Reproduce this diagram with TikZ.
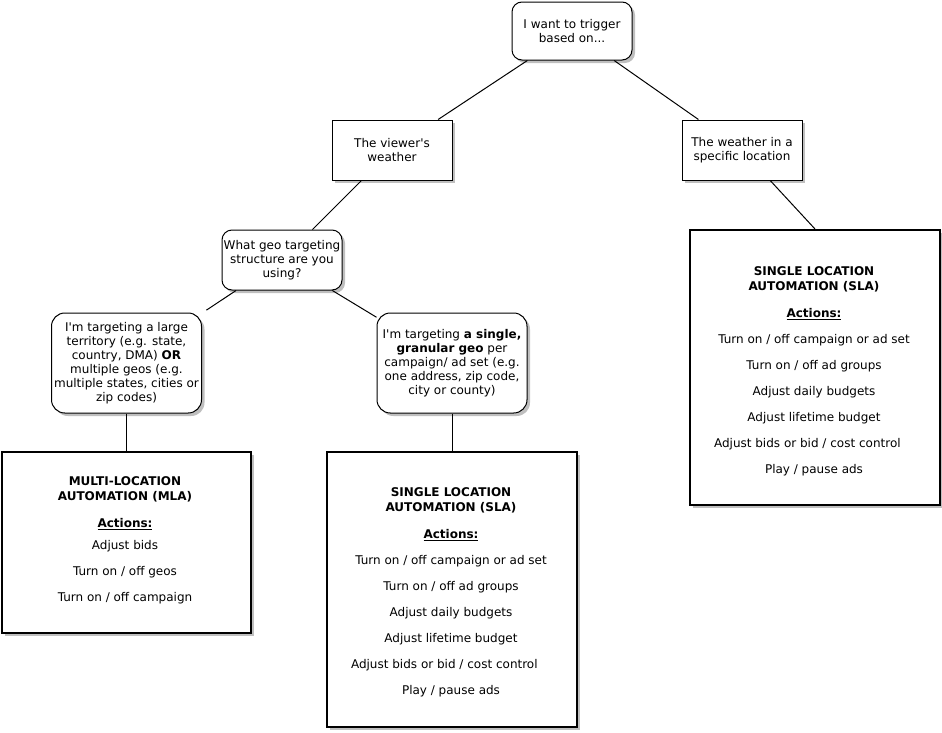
\documentclass[tikz,border=0pt]{standalone}
\usepackage{fontspec}
\setmainfont{DejaVu Sans}
\usetikzlibrary{shadows}
\begin{document}
\begin{tikzpicture}[x=0.75pt,y=-0.75pt,
  base/.style={draw=black, line width=0.75pt, fill=white, align=center, inner sep=0pt,
    font=\fontsize{9pt}{10.5pt}\selectfont,
    drop shadow={shadow xshift=2.25pt, shadow yshift=-2.25pt, opacity=0.25, fill=black}},
  rbox/.style={base, rounded corners=7.5pt},
  sbox/.style={base},
  bigbox/.style={base, line width=1.5pt},
  txt/.style={align=center, inner sep=0pt, anchor=north, font=\fontsize{9pt}{11.25pt}\selectfont},
  link/.style={draw=black, line width=0.75pt}
]
\useasboundingbox (0,0) rectangle (942,732);

\node[rbox, minimum width=90pt, minimum height=43.5pt] (top) at (572,31) {I want to trigger\\based on...};
\node[sbox, minimum width=90pt, minimum height=45pt] (viewer) at (392,150) {The viewer\textquotesingle s\\weather};
\node[sbox, minimum width=90pt, minimum height=45pt] (loc) at (742,150) {The weather in a\\specific location};
\node[rbox, minimum width=90pt, minimum height=45pt] (geo) at (282,260) {What geo targeting\\structure are you\\using?};
\node[rbox, rounded corners=10pt, minimum width=112.5pt, minimum height=75pt] (large) at (126.5,363)
  {I\textquotesingle m targeting a large\\territory (e.g. state,\\country, DMA) \textbf{OR}\\multiple geos (e.g.\\multiple states, cities or\\zip codes)};
\node[rbox, rounded corners=10pt, minimum width=112.5pt, minimum height=75pt] (single) at (452,363)
  {I\textquotesingle m targeting \textbf{a single,}\\\textbf{granular geo} per\\campaign/ ad set (e.g.\\one address, zip code,\\city or county)};

\node[bigbox, minimum width=186.75pt, minimum height=135.75pt] (mla) at (126.5,542.5) {};
\node[bigbox, minimum width=187.5pt, minimum height=206.25pt] (slaM) at (452,589.5) {};
\node[bigbox, minimum width=187.5pt, minimum height=206.25pt] (slaR) at (815,367.5) {};

\node[txt] (mlaT) at (125,476) {\textbf{MULTI-LOCATION}\\\textbf{AUTOMATION (MLA)}\\[9pt]\underline{\textbf{Actions:}}\\[5.25pt]Adjust bids\\[8.25pt]Turn on / off geos\\[8.25pt]Turn on / off campaign};

\node[txt] (slaMT) at (451,487.5) {\textbf{SINGLE LOCATION}\\\textbf{AUTOMATION (SLA)}\\[9pt]\underline{\textbf{Actions:}}\\[8.25pt]Turn on / off campaign or ad set\\[8.25pt]Turn on / off ad groups\\[8.25pt]Adjust daily budgets\\[8.25pt]Adjust lifetime budget\\[8.25pt]Adjust bids or bid / cost control\rule{10pt}{0pt}\\[8.25pt]Play / pause ads};

\node[txt] (slaRT) at (814,266.5) {\textbf{SINGLE LOCATION}\\\textbf{AUTOMATION (SLA)}\\[9pt]\underline{\textbf{Actions:}}\\[8.25pt]Turn on / off campaign or ad set\\[8.25pt]Turn on / off ad groups\\[8.25pt]Adjust daily budgets\\[8.25pt]Adjust lifetime budget\\[8.25pt]Adjust bids or bid / cost control\rule{10pt}{0pt}\\[8.25pt]Play / pause ads};

\draw[link] (top) -- (viewer);
\draw[link] (top) -- (loc);
\draw[link] (loc) -- (slaR.north);
\draw[link] (viewer) -- (geo);
\draw[link, shorten >=4pt] (geo) -- (large);
\draw[link] (geo) -- (single);
\draw[link] (large) -- (mla);
\draw[link] (single) -- (slaM);
\end{tikzpicture}
\end{document}
